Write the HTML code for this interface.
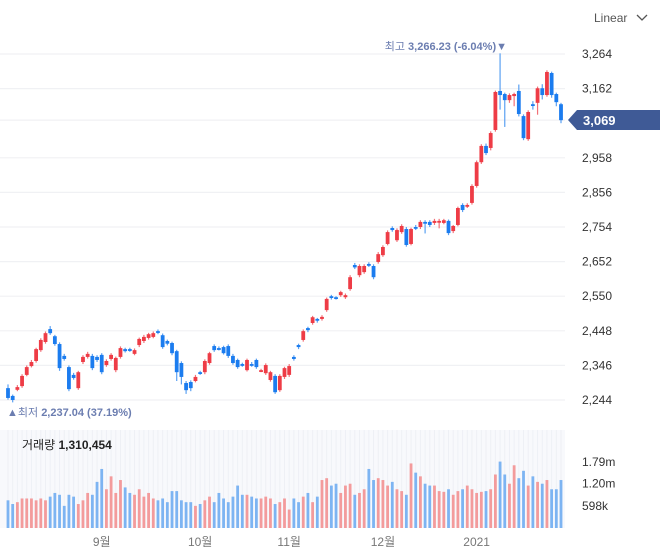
<!DOCTYPE html>
<html><head><meta charset="utf-8">
<style>
body{margin:0;background:#fff;width:663px;height:556px;overflow:hidden;font-family:"Liberation Sans","Noto Sans CJK KR",sans-serif;}
svg{display:block}
</style></head>
<body>
<svg id="chart" width="663" height="556" xmlns="http://www.w3.org/2000/svg" font-family="Liberation Sans, Noto Sans CJK KR, sans-serif">
  <g id="grid"></g>
  <rect x="0" y="430" width="565" height="98" fill="#f8f9fc"/>
  <g id="vgrid"></g>
  <g id="vol"></g>
  <g id="candles"></g>
  <g id="yaxis" font-size="12" fill="#333"></g>
  <g id="vaxis" font-size="12" fill="#333"></g>
  <g id="xaxis" font-size="12" fill="#777" text-anchor="middle"></g>
  <text x="594" y="22" font-size="12" fill="#555">Linear</text>
  <path d="M637 15 l5 5 l5 -5" stroke="#555" stroke-width="1.3" fill="none"/>
  <text x="507" y="50" font-size="11" fill="#6b7db0" text-anchor="end">최고 <tspan font-weight="bold">3,266.23 (-6.04%)</tspan>▼</text>
  <text x="7" y="416" font-size="11" fill="#6b7db0">▲최저 <tspan font-weight="bold">2,237.04 (37.19%)</tspan></text>
  <text x="22" y="449" font-size="12" fill="#222">거래량 <tspan font-weight="bold">1,310,454</tspan></text>
  <g>
    <path d="M568 120 L577 110 L660 110 L660 130 L577 130 Z" fill="#3f5a96"/>
    <text x="583" y="125" font-size="13" fill="#fff" font-weight="bold">3,069</text>
  </g>
</svg>
<script>
const opens=[2279,2256,2274,2285,2318,2344,2359,2391,2415,2453,2432,2409,2374,2341,2318,2279,2356,2371,2374,2371,2377,2347,2365,2332,2371,2394,2394,2380,2406,2418,2427,2430,2447,2435,2418,2412,2388,2353,2294,2297,2300,2326,2326,2353,2403,2397,2400,2403,2374,2362,2350,2332,2350,2362,2329,2323,2303,2315,2273,2312,2318,2371,2406,2421,2456,2471,2483,2483,2509,2550,2547,2553,2547,2571,2642,2612,2621,2645,2639,2651,2671,2704,2751,2715,2739,2748,2704,2754,2754,2769,2769,2766,2769,2766,2772,2742,2760,2819,2816,2825,2875,2945,2993,2987,3040,3155,3146,3128,3140,3155,3081,3013,3116,3120,3163,3143,3208,3146,3116];
const closes=[2250,2244,2282,2315,2341,2356,2394,2421,2441,2441,2409,2338,2365,2276,2309,2326,2371,2380,2338,2362,2326,2359,2377,2368,2397,2388,2390,2391,2424,2430,2438,2441,2444,2400,2410,2382,2326,2312,2273,2279,2312,2323,2359,2382,2391,2394,2382,2374,2353,2341,2347,2362,2347,2341,2332,2347,2326,2267,2315,2338,2344,2365,2400,2447,2450,2488,2478,2489,2542,2545,2544,2562,2553,2606,2635,2639,2639,2641,2606,2674,2695,2739,2745,2745,2757,2701,2748,2751,2769,2766,2760,2772,2772,2774,2736,2757,2810,2804,2819,2875,2945,2993,2972,3031,3152,3143,3128,3143,3146,3087,3016,3093,3113,3163,3143,3211,3143,3122,3069];
const highs=[2290,2260,2288,2320,2346,2362,2398,2426,2446,2462,2436,2414,2380,2346,2324,2330,2376,2386,2380,2376,2382,2364,2382,2372,2402,2398,2398,2396,2428,2436,2442,2446,2452,2440,2422,2416,2392,2358,2300,2302,2318,2330,2364,2386,2408,2402,2404,2408,2380,2366,2354,2366,2356,2366,2336,2352,2330,2320,2320,2342,2350,2376,2410,2452,2460,2492,2486,2494,2546,2554,2550,2566,2558,2612,2648,2644,2644,2650,2644,2680,2700,2744,2756,2750,2762,2754,2752,2760,2774,2774,2774,2778,2778,2778,2776,2760,2814,2824,2824,2880,2950,2998,3000,3036,3156,3266,3150,3148,3150,3174,3086,3098,3125,3168,3175,3216,3212,3150,3120];
const lows=[2245,2237,2270,2280,2314,2340,2354,2386,2410,2436,2404,2330,2360,2270,2304,2274,2350,2366,2332,2356,2320,2342,2360,2326,2366,2384,2386,2376,2400,2412,2422,2426,2438,2395,2405,2376,2300,2290,2262,2270,2296,2318,2320,2348,2386,2390,2378,2368,2348,2336,2342,2328,2342,2336,2326,2318,2298,2262,2268,2306,2312,2360,2394,2416,2444,2466,2472,2478,2504,2540,2540,2548,2542,2566,2630,2606,2616,2636,2600,2646,2666,2700,2740,2710,2734,2696,2700,2745,2748,2735,2754,2760,2750,2762,2730,2736,2756,2798,2810,2820,2870,2940,2966,2980,3035,3100,3049,3120,3110,3080,3010,3008,3100,3085,3130,3138,3135,3110,3060];
const volumes=[0.75,0.65,0.7,0.8,0.8,0.8,0.75,0.8,0.75,0.85,0.95,0.9,0.6,0.9,0.85,0.65,0.75,0.95,0.9,1.25,1.6,1.05,1.4,0.95,1.3,1.1,0.95,0.9,1.05,0.85,0.95,0.8,0.75,0.8,0.7,1.0,1.0,0.75,0.7,0.7,0.6,0.65,0.75,0.85,0.7,0.95,0.8,0.7,0.85,1.15,0.9,0.9,0.85,0.8,0.8,0.85,0.8,0.65,0.7,0.8,0.5,0.8,0.7,0.85,0.95,0.7,0.85,1.3,1.35,1.15,1.2,0.95,1.15,1.2,0.9,0.95,1.05,1.6,1.3,1.35,1.3,1.15,1.25,1.05,1.0,0.9,1.75,1.5,1.4,1.2,1.15,1.15,1.0,0.98,1.05,0.9,1.0,1.05,1.15,1.05,0.95,0.98,1.0,1.05,1.45,1.8,1.45,1.2,1.7,1.35,1.55,1.15,1.4,1.25,1.2,1.3,1.05,1.05,1.3];
const priceTicks=[3264,3162,2958,2856,2754,2652,2550,2448,2346,2244];
const priceTickLabels=["3,264","3,162","2,958","2,856","2,754","2,652","2,550","2,448","2,346","2,244"];
const volTicks=[1.79,1.20,0.598];
const volTickLabels=["1.79m","1.20m","598k"];
const monthIdx=[20,41,60,80,100];
const monthLabels=["9월","10월","11월","12월","2021"];

const NS="http://www.w3.org/2000/svg";
const yP=v=>54+(3264-v)*(346/1020);
const xI=i=>8+i*(553/(opens.length-1));
const yV=v=>528-v*36.9;
function mk(tag,attrs,parent){const e=document.createElementNS(NS,tag);for(const k in attrs)e.setAttribute(k,attrs[k]);parent.appendChild(e);return e;}
const grid=document.getElementById('grid'),yaxis=document.getElementById('yaxis');
priceTicks.forEach((t,i)=>{
  const l=mk('line',{x1:0,x2:565,y1:yP(t),y2:yP(t),stroke:'#f0f1f4','stroke-width':1.2},grid);
  
  
  const tx=mk('text',{x:582,y:yP(t)+4},yaxis);tx.textContent=priceTickLabels[i];
  
  
});
const cl=mk('line',{x1:0,x2:565,y1:yP(3069),y2:yP(3069),stroke:'#f0f1f4','stroke-width':1.2},grid);


const vg=document.getElementById('vgrid'),vol=document.getElementById('vol'),cg=document.getElementById('candles');
opens.forEach((o,i)=>{
  const x=xI(i),c=closes[i],up=c>=o;
  const gl=mk('line',{x1:x,x2:x,y1:430,y2:528,stroke:'#eef0f5','stroke-width':1},vg);
  
  
  const vb=mk('rect',{x:x-1.4,width:2.8,y:yV(volumes[i]),height:528-yV(volumes[i]),fill:up?'#f39b9c':'#7db4f2'},vol);
  
  
  const col=up?'#ee3c46':'#1b7cef';
  const w=mk('line',{x1:x,x2:x,y1:yP(highs[i]),y2:yP(lows[i]),stroke:up?'#f27178':'#5aa0f2','stroke-width':1.2},cg);
  
  
  const top=yP(Math.max(o,c)),bot=yP(Math.min(o,c));
  const b=mk('rect',{x:x-1.9,width:3.8,y:top,height:Math.max(1.8,bot-top),fill:col},cg);
  
  
});
const vaxis=document.getElementById('vaxis');
volTicks.forEach((t,i)=>{
  const tx=mk('text',{x:582,y:yV(t)+4},vaxis);tx.textContent=volTickLabels[i];
  
  
});
const xaxis=document.getElementById('xaxis');
monthIdx.forEach((m,i)=>{
  const tx=mk('text',{x:xI(m),y:546},xaxis);tx.textContent=monthLabels[i];
  
  
});
</script>
</body></html>
